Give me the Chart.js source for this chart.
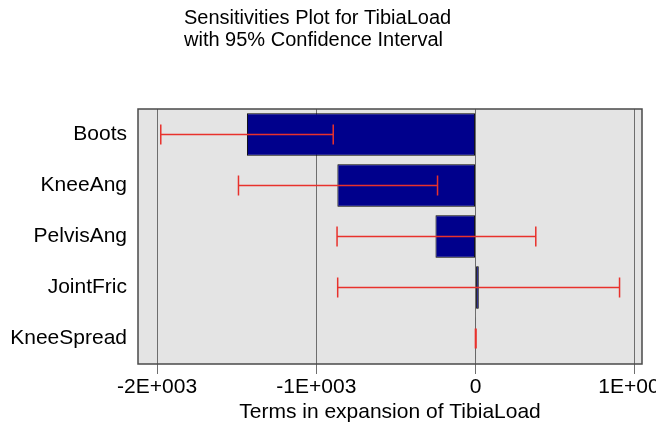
<!DOCTYPE html>
<html>
<head>
<meta charset="utf-8">
<script src="https://cdn.jsdelivr.net/npm/chart.js@4.4.1/dist/chart.umd.min.js"></script>
<style>
  html, body { margin: 0; padding: 0; background: #fff; }
  #wrap { width: 656px; height: 425px; position: relative; }
</style>
</head>
<body>
<div id="wrap"><canvas id="chart"></canvas></div>
<script>
// data
const categories = ['Boots', 'KneeAng', 'PelvisAng', 'JointFric', 'KneeSpread'];
const sensitivities = [-1436, -868, -252, 20, 1];
const ciLow = [-1977, -1489, -870, -866, -1];
const ciHigh = [-894, -239, 378, 904, 3];
const xTickValues = [-2000, -1000, 0, 1000];
const xTickLabels = ['-2E+003', '-1E+003', '0', '1E+003'];
const titleLines = ['Sensitivities Plot for TibiaLoad', 'with 95% Confidence Interval'];
const xTitle = 'Terms in expansion of TibiaLoad';

const FONT = '"Liberation Sans", Arial, sans-serif';

// grey plot background, frame, error bars and the text blocks
const decor = {
  id: 'decor',
  beforeDraw(chart) {
    const { ctx, chartArea: a } = chart;
    ctx.save();
    ctx.fillStyle = '#e4e4e4';
    ctx.fillRect(a.left, a.top, a.right - a.left, a.bottom - a.top);
    ctx.restore();
  },
  afterDatasetsDraw(chart) {
    const { ctx, chartArea: a } = chart;
    const xs = chart.scales.x, ys = chart.scales.y;
    ctx.save();
    // confidence intervals
    ctx.strokeStyle = '#e8312c';
    ctx.lineWidth = 1.5;
    categories.forEach((c, i) => {
      const y = ys.getPixelForValue(i);
      const x1 = xs.getPixelForValue(ciLow[i]);
      const x2 = xs.getPixelForValue(ciHigh[i]);
      ctx.beginPath();
      ctx.moveTo(x1, y); ctx.lineTo(x2, y);
      ctx.moveTo(x1, y - 10); ctx.lineTo(x1, y + 10);
      ctx.moveTo(x2, y - 10); ctx.lineTo(x2, y + 10);
      ctx.stroke();
    });
    // frame
    ctx.strokeStyle = '#4a4a4a';
    ctx.lineWidth = 1.5;
    ctx.strokeRect(a.left, a.top, a.right - a.left, a.bottom - a.top);
    // titles
    ctx.fillStyle = '#000';
    ctx.font = '20px ' + FONT;
    ctx.textAlign = 'left';
    ctx.textBaseline = 'alphabetic';
    ctx.fillText(titleLines[0], 184, 24);
    ctx.fillText(titleLines[1], 184, 46);
    ctx.textAlign = 'center';
    ctx.font = '21px ' + FONT;
    ctx.fillText(xTitle, (a.left + a.right) / 2, 418);
    ctx.restore();
  }
};

new Chart(document.getElementById('chart'), {
  type: 'bar',
  data: {
    labels: categories,
    datasets: [{
      data: sensitivities,
      backgroundColor: '#00008c',
      borderColor: '#000000',
      borderWidth: 1,
      borderSkipped: false,
      barPercentage: 0.83,
      categoryPercentage: 1
    }]
  },
  options: {
    indexAxis: 'y',
    responsive: true,
    maintainAspectRatio: false,
    animation: false,
    layout: { padding: { top: 109, right: 14, left: 0, bottom: 0 } },
    plugins: { legend: { display: false }, tooltip: { enabled: false }, title: { display: false } },
    scales: {
      x: {
        min: -2120,
        max: 1045,
        afterBuildTicks: s => { s.ticks = xTickValues.map(v => ({ value: v })); },
        afterFit: s => { s.height = 61; s.paddingLeft = 0; s.paddingRight = 0; },
        grid: { color: '#6e6e6e', lineWidth: 1, tickLength: 10, drawOnChartArea: true },
        border: { display: false },
        ticks: {
          color: '#000',
          padding: 1,
          maxRotation: 0,
          autoSkip: false,
          font: { family: FONT, size: 21 },
          callback: v => xTickLabels[xTickValues.indexOf(v)]
        }
      },
      y: {
        afterFit: s => { s.width = 138; },
        grid: { display: false, drawTicks: false },
        border: { display: false },
        ticks: { color: '#000', padding: 11, font: { family: FONT, size: 21 } }
      }
    }
  },
  plugins: [decor]
});
</script>
</body>
</html>
